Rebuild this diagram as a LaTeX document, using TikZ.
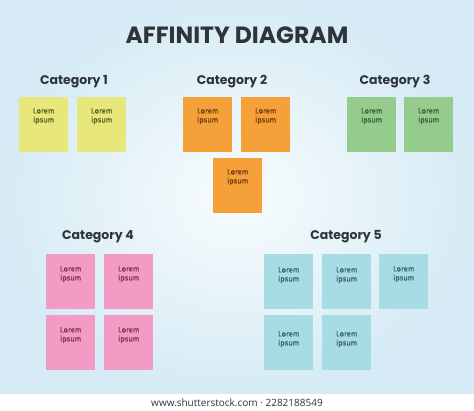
\documentclass[tikz,border=0pt]{standalone}
\usepackage{fontspec}
\setmainfont{Poppins}
\newfontfamily\notefont[FakeBold=0.3]{Fira Sans}
\newfontfamily\urlfont{Open Sans}
\definecolor{bgedge}{HTML}{D6EBF5}
\definecolor{bgmid}{HTML}{F8FCFD}
\definecolor{ink}{HTML}{2E3437}
\definecolor{ylw}{HTML}{E8E77C}
\definecolor{ylwt}{HTML}{5A5926}
\definecolor{org}{HTML}{F6A03A}
\definecolor{orgt}{HTML}{6E3A10}
\definecolor{grn}{HTML}{95CB8C}
\definecolor{grnt}{HTML}{355E33}
\definecolor{pnk}{HTML}{F39BC4}
\definecolor{pnkt}{HTML}{7E2C57}
\definecolor{blu}{HTML}{A8DCE5}
\definecolor{blut}{HTML}{355F6C}
\tikzset{
  notebox/.style={draw=none, minimum width=49pt, minimum height=55pt, inner sep=0pt, anchor=north west},
  notetxt/.style={anchor=north, inner sep=0pt, align=center, font=\notefont\fontsize{7.6}{9}\selectfont},
  cattitle/.style={font=\bfseries\fontsize{12.5}{14}\selectfont, text=ink, inner sep=0pt},
}
\newcommand\stick[6]{% name, x, y, fill, textcolor, text offset
  \node[notebox, fill=#4] (#1) at (#2,#3) {};
  \node[notetxt, text=#5] (#1t) at ([yshift=-#6pt]#1.north) {Lorem\\ipsum};
}
\begin{document}
\begin{tikzpicture}[x=1pt,y=-1pt]
\useasboundingbox (0,0) rectangle (474,410);
\fill[white] (0,0) rectangle (474,410);
\shade[inner color=bgmid, outer color=bgedge] (0,0) rectangle (474,393);
% title
\node[font=\bfseries\fontsize{23.5}{26}\selectfont, text=ink, inner sep=0pt] (title) at (237,35) {AFFINITY DIAGRAM};
% category titles
\node[cattitle] (c1) at (74,82) {Category 1};
\node[cattitle] (c2) at (232,82) {Category 2};
\node[cattitle] (c3) at (395,82) {Category 3};
\node[cattitle] (c4) at (98,237) {Category 4};
\node[cattitle] (c5) at (346,237) {Category 5};
% category 1
\stick{a1}{19}{97}{ylw}{ylwt}{11}
\stick{a2}{77}{97}{ylw}{ylwt}{11}
% category 2
\stick{b1}{183}{97}{org}{orgt}{11}
\stick{b2}{241}{97}{org}{orgt}{11}
\stick{b3}{213}{158}{org}{orgt}{11}
% category 3
\stick{g1}{347}{97}{grn}{grnt}{11}
\stick{g2}{404}{97}{grn}{grnt}{11}
% category 4
\stick{p1}{46}{254}{pnk}{pnkt}{12}
\stick{p2}{104}{254}{pnk}{pnkt}{12}
\stick{p3}{46}{315}{pnk}{pnkt}{12}
\stick{p4}{104}{315}{pnk}{pnkt}{12}
% category 5
\stick{q1}{264}{254}{blu}{blut}{13}
\stick{q2}{322}{254}{blu}{blut}{13}
\stick{q3}{379}{254}{blu}{blut}{12}
\stick{q4}{264}{315}{blu}{blut}{16}
\stick{q5}{322}{315}{blu}{blut}{16}
% footer
\node[font=\urlfont\fontsize{10}{11}\selectfont, text=ink, inner sep=0pt] (url) at (237,403) {www.shutterstock.com · 2282188549};
\end{tikzpicture}
\end{document}
